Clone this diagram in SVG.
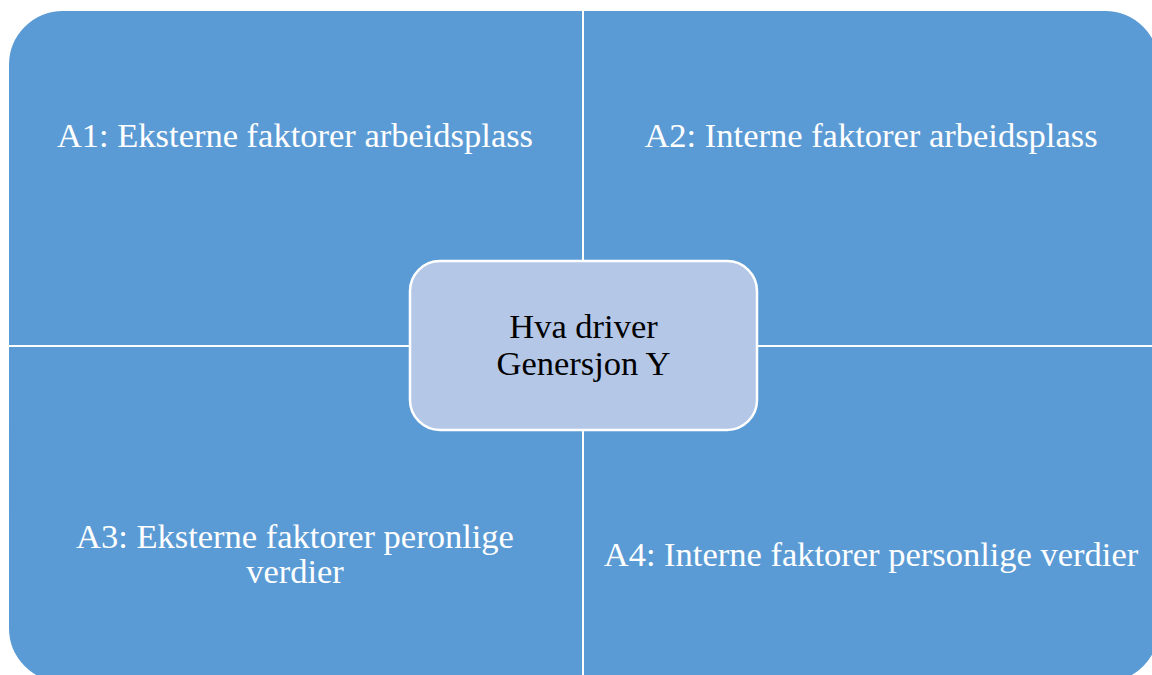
<svg xmlns="http://www.w3.org/2000/svg" width="1152" height="675" viewBox="0 0 1152 675">
<style>
.q{fill:#5B9BD5;stroke:#FFFFFF;stroke-width:2}
.c{fill:#B4C7E7;stroke:#FFFFFF;stroke-width:2.5}
.t{font-family:"Liberation Serif","Times New Roman",serif;font-size:34.5px;text-anchor:middle}
.w{fill:#FFFFFF}
.b{fill:#000000}
</style>
<rect width="1152" height="675" fill="#FFFFFF"/>
<g id="A1">
<path class="q" d="M8,346 L8,65 A55,55 0 0 1 63,10 L583,10 L583,346 Z"/>
<text class="t w" x="295" y="147">A1: Eksterne faktorer arbeidsplass</text>
</g>
<g id="A2">
<path class="q" d="M583,10 L1105,10 A55,55 0 0 1 1160,65 L1160,346 L583,346 Z"/>
<text class="t w" x="871" y="147">A2: Interne faktorer arbeidsplass</text>
</g>
<g id="A3">
<path class="q" d="M8,346 L583,346 L583,683 L63,683 A55,55 0 0 1 8,628 Z"/>
<text class="t w" x="295" y="548">A3: Eksterne faktorer peronlige</text>
<text class="t w" x="295" y="583">verdier</text>
</g>
<g id="A4">
<path class="q" d="M583,346 L1160,346 L1160,628 A55,55 0 0 1 1105,683 L583,683 Z"/>
<text class="t w" x="871" y="566">A4: Interne faktorer personlige verdier</text>
</g>
<g id="connectors"></g>
<g id="center">
<rect class="c" x="410" y="261" width="347" height="169" rx="30" ry="30"/>
<text class="t b" x="583.5" y="338">Hva driver</text>
<text class="t b" x="583.5" y="375">Genersjon Y</text>
</g>
</svg>
